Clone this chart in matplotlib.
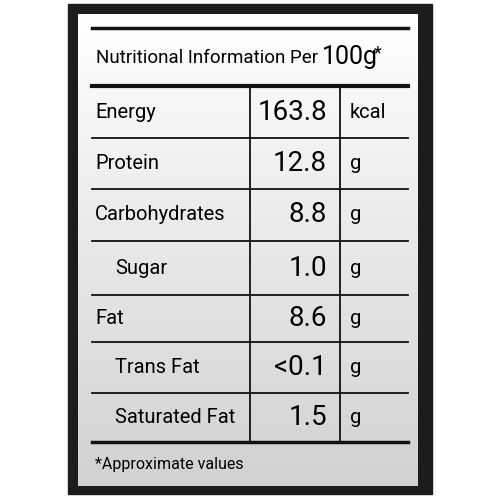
import matplotlib
matplotlib.use("Agg")
import matplotlib.pyplot as plt
import numpy as np
from matplotlib.patches import Rectangle

names = ["Energy", "Protein", "Carbohydrates", "Sugar", "Fat", "Trans Fat", "Saturated Fat"]
values = ["163.8", "12.8", "8.8", "1.0", "8.6", "<0.1", "1.5"]
units = ["kcal", "g", "g", "g", "g", "g", "g"]
indent = [False, False, False, True, False, True, True]
title = "Nutritional Information Per "
footnote = "*Approximate values"

plt.rcParams['font.family'] = ['Roboto', 'DejaVu Sans']
fig = plt.figure(figsize=(5, 5), dpi=100)
ax = fig.add_axes([0, 0, 1, 1])
ax.set_xlim(0, 500); ax.set_ylim(500, 0); ax.axis('off')

# dark frame
ax.add_patch(Rectangle((68, 4), 364, 490, color='#1c1c1c'))
# gradient panel
grad = np.linspace(1.0, 0.82, 256).reshape(-1, 1)
ax.imshow(np.dstack([grad]*3), extent=(78, 418, 486, 14), aspect='auto', zorder=1)

lc = '#111111'
ax.plot([92, 408], [28, 28], color=lc, lw=2.5, zorder=2)
ax.plot([92, 408], [86, 86], color=lc, lw=3, zorder=2)
ax.text(96, 58, title, fontsize=13.5, va='center', zorder=3)
ax.text(322, 57, "100g", fontsize=18, va='center', zorder=3)
ax.text(374, 53, "*", fontsize=13, va='center', zorder=3)

bounds = [86, 138, 189, 241, 295, 342, 393, 442]
for b in bounds[1:-1]:
    ax.plot([92, 408], [b, b], color=lc, lw=1.3, zorder=2)
ax.plot([92, 408], [442, 442], color=lc, lw=2.5, zorder=2)
for x in (250, 340):
    ax.plot([x, x], [86, 442], color=lc, lw=1.3, zorder=2)

for i, (n, v, u) in enumerate(zip(names, values, units)):
    y = (bounds[i] + bounds[i+1]) / 2
    ax.text(115 if indent[i] else 95, y, n, fontsize=14.5, va='center', zorder=3)
    ax.text(327, y, v, fontsize=20, va='center', ha='right', zorder=3)
    ax.text(350, y, u, fontsize=14.5, va='center', zorder=3)

ax.text(95, 464, footnote, fontsize=11.5, va='center', zorder=3)
fig.savefig("out.png", dpi=100, facecolor='white')
